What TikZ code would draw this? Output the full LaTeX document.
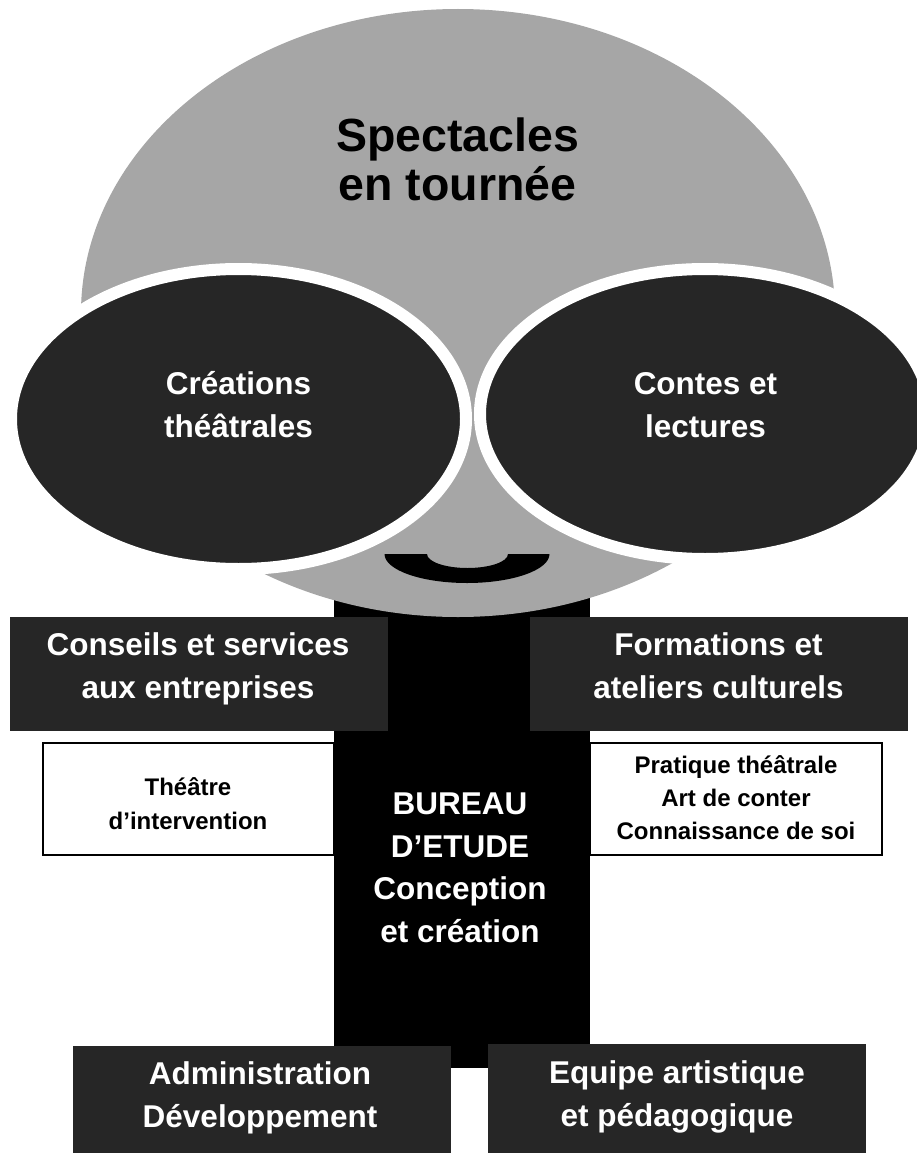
\documentclass[tikz,border=0pt]{standalone}
\usepackage{fontspec}
\setmainfont{Liberation Sans}
\definecolor{headgrey}{HTML}{A6A6A6}
\definecolor{darkfill}{HTML}{262626}
\begin{document}
\begin{tikzpicture}[x=1pt,y=-1pt,
  lbl/.style={align=center, anchor=base, inner sep=0pt},
  bigtxt/.style={lbl, font=\bfseries\fontsize{31.5}{43}\selectfont},
  smalltxt/.style={lbl, font=\bfseries\fontsize{24}{33.5}\selectfont},
  onwhite/.style={text=black},
  ondark/.style={text=white},
  darkbox/.style={fill=darkfill},
  whitebox/.style={fill=white, draw=black, line width=2pt},
  eye/.style={fill=darkfill, draw=white, line width=12pt}]
\useasboundingbox (0,0) rectangle (916,1153);
% trunk
\fill[black] (334,560) rectangle (590,1068);
% head
\fill[headgrey] (458,313) ellipse [x radius=377, y radius=304];
% eyes
\filldraw[eye] (238.5,419) ellipse [x radius=227.5, y radius=150];
\filldraw[eye] (705,414) ellipse [x radius=225, y radius=145];
% smile
\fill[black] (384.5,554) arc[start angle=180, end angle=0, x radius=82.5, y radius=29]
  -- (508,554) arc[start angle=0, end angle=180, x radius=40.5, y radius=14] -- cycle;
% boxes
\fill[darkbox] (10,617) rectangle (388,731);
\fill[darkbox] (530,617) rectangle (908,731);
\filldraw[whitebox] (43,743) rectangle (334,855);
\filldraw[whitebox] (590,743) rectangle (882,855);
\fill[darkbox] (73,1046) rectangle (451,1153);
\fill[darkbox] (488,1044) rectangle (866,1153);
% labels (anchor=base is the baseline of the last line)
\node[lbl, onwhite, font=\bfseries\fontsize{46.5}{48.5}\selectfont] (spect) at (457.5,200) {Spectacles\\en tournée};
\node[bigtxt, ondark] (creat) at (238.5,437) {Créations\\théâtrales};
\node[bigtxt, ondark] (contes) at (705.5,437) {Contes et\\lectures};
\node[bigtxt, ondark] (conseils) at (198,698) {Conseils et services\\aux entreprises};
\node[bigtxt, ondark] (format) at (718.5,698) {Formations et\\ateliers culturels};
\node[smalltxt, onwhite] (theatre) at (188,829) {Théâtre\\d’intervention};
\node[smalltxt, onwhite, font=\bfseries\fontsize{24}{33}\selectfont] (pratique) at (736,839) {Pratique théâtrale\\Art de conter\\Connaissance de soi};
\node[bigtxt, ondark, font=\bfseries\fontsize{31.5}{42.5}\selectfont] (bureau) at (460,942) {BUREAU\\D’ETUDE\\Conception\\et création};
\node[bigtxt, ondark] (admin) at (260,1127) {Administration\\Développement};
\node[bigtxt, ondark] (equipe) at (677,1126) {Equipe artistique\\et pédagogique};
\end{tikzpicture}
\end{document}
